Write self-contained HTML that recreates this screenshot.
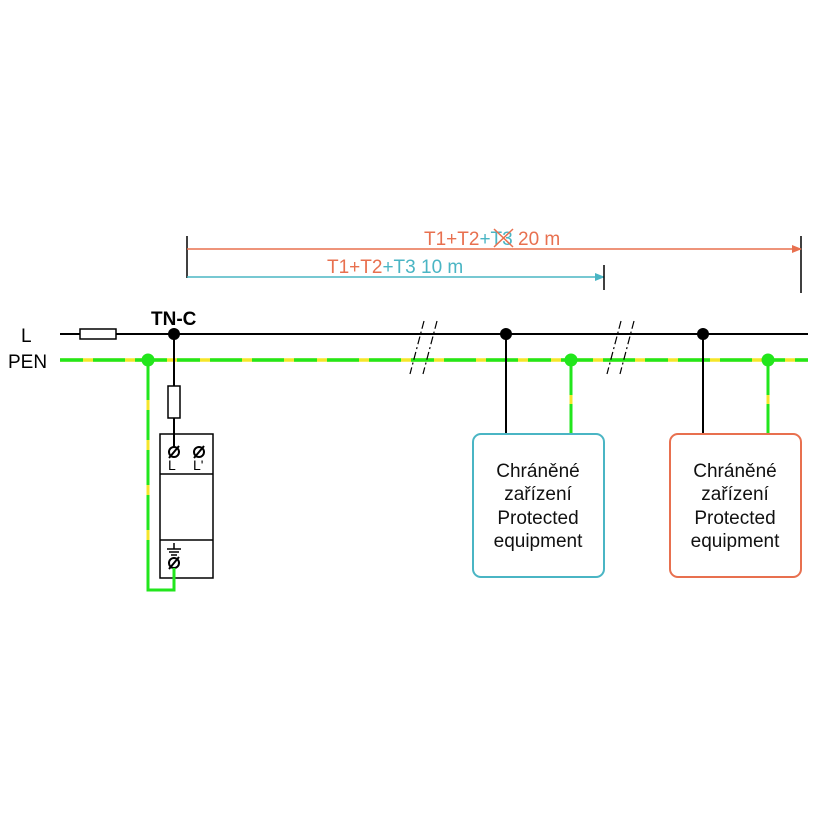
<!DOCTYPE html>
<html><head><meta charset="utf-8"><style>body{margin:0;background:#fff}svg{display:block}text{font-family:"Liberation Sans",sans-serif}</style></head><body>
<svg width="820" height="820" viewBox="0 0 820 820" xmlns="http://www.w3.org/2000/svg">
<defs>
<marker id="ao" markerWidth="10" markerHeight="10" refX="9" refY="5" orient="auto" markerUnits="userSpaceOnUse"><path d="M0,1 L10,5 L0,9z" fill="#e8704f"/></marker>
<marker id="at" markerWidth="10" markerHeight="10" refX="9" refY="5" orient="auto" markerUnits="userSpaceOnUse"><path d="M0,1 L10,5 L0,9z" fill="#4ab5c4"/></marker>
</defs>
<line x1="187" y1="236" x2="187" y2="278" stroke="#000" stroke-width="1.5"/>
<line x1="801" y1="236" x2="801" y2="293" stroke="#000" stroke-width="1.5"/>
<line x1="187" y1="249" x2="801" y2="249" stroke="#e8704f" stroke-width="1.5" marker-end="url(#ao)"/>
<line x1="187" y1="277" x2="604" y2="277" stroke="#4ab5c4" stroke-width="1.5" marker-end="url(#at)"/>
<line x1="604" y1="265" x2="604" y2="290" stroke="#000" stroke-width="1.5"/>
<text x="424" y="245" font-size="19" fill="#e8704f">T1+T2<tspan fill="#4ab5c4">+T3</tspan> 20 m</text>
<line x1="494" y1="229" x2="513" y2="247" stroke="#e8704f" stroke-width="1.5"/>
<line x1="494" y1="247" x2="513" y2="229" stroke="#e8704f" stroke-width="1.5"/>
<text x="327" y="273" font-size="19" fill="#e8704f">T1+T2<tspan fill="#4ab5c4">+T3 10 m</tspan></text>
<text x="21" y="342" font-size="19">L</text>
<text x="8" y="368" font-size="19">PEN</text>
<text x="151" y="325" font-size="19" font-weight="bold">TN-C</text>
<line x1="60" y1="334" x2="808" y2="334" stroke="#000" stroke-width="2"/>
<rect x="80" y="329" width="36" height="10" fill="#fff" stroke="#000" stroke-width="1.5"/>
<line x1="60" y1="360" x2="808" y2="360" stroke="#f5e62a" stroke-width="3.5"/>
<line x1="60" y1="360" x2="808" y2="360" stroke="#22e61c" stroke-width="3.5" stroke-dasharray="23 10 32 10 32 10" />
<g stroke="#000" stroke-width="1.2" stroke-dasharray="8 3 2 3">
<line x1="424" y1="321" x2="410" y2="374"/><line x1="437" y1="321" x2="423" y2="374"/>
<line x1="621" y1="321" x2="607" y2="374"/><line x1="634" y1="321" x2="620" y2="374"/>
</g>
<line x1="174" y1="334" x2="174" y2="452" stroke="#000" stroke-width="2"/>
<rect x="168" y="386" width="12" height="32" fill="#fff" stroke="#000" stroke-width="1.5"/>
<polyline points="148,360 148,590 174,590 174,563" fill="none" stroke="#22e61c" stroke-width="3"/>
<line x1="148" y1="400" x2="148" y2="410" stroke="#f5e62a" stroke-width="3"/>
<line x1="148" y1="440" x2="148" y2="450" stroke="#f5e62a" stroke-width="3"/>
<line x1="148" y1="485" x2="148" y2="495" stroke="#f5e62a" stroke-width="3"/>
<line x1="148" y1="530" x2="148" y2="540" stroke="#f5e62a" stroke-width="3"/>
<rect x="160" y="434" width="53" height="144" fill="none" stroke="#000" stroke-width="1.5"/>
<line x1="160" y1="474" x2="213" y2="474" stroke="#000" stroke-width="1.5"/>
<line x1="160" y1="540" x2="213" y2="540" stroke="#000" stroke-width="1.5"/>
<g stroke="#000" stroke-width="2" fill="#fff">
<circle cx="174" cy="452" r="5"/><line x1="169" y1="458" x2="179" y2="446"/>
<circle cx="199" cy="452" r="5"/><line x1="194" y1="458" x2="204" y2="446"/>
<circle cx="174" cy="563" r="5"/><line x1="169" y1="569" x2="179" y2="557"/>
<line x1="174" y1="543" x2="174" y2="549" stroke-width="1.5"/><line x1="167" y1="549" x2="181" y2="549" stroke-width="1.5"/><line x1="169" y1="552" x2="179" y2="552" stroke-width="1.5"/><line x1="171" y1="555" x2="177" y2="555" stroke-width="1.5"/>
</g>
<line x1="174" y1="568" x2="174" y2="590" stroke="#22e61c" stroke-width="3"/>
<text x="168" y="470" font-size="14">L</text><text x="193" y="470" font-size="14">L'</text>
<line x1="506" y1="334" x2="506" y2="434" stroke="#000" stroke-width="2"/>
<line x1="703" y1="334" x2="703" y2="434" stroke="#000" stroke-width="2"/>
<line x1="571" y1="360" x2="571" y2="434" stroke="#22e61c" stroke-width="3"/>
<line x1="571" y1="395" x2="571" y2="404" stroke="#f5e62a" stroke-width="3"/>
<line x1="768" y1="360" x2="768" y2="434" stroke="#22e61c" stroke-width="3"/>
<line x1="768" y1="395" x2="768" y2="404" stroke="#f5e62a" stroke-width="3"/>
<rect x="473" y="434" width="131" height="143" rx="8" fill="#fff" stroke="#4ab5c4" stroke-width="2"/>
<rect x="670" y="434" width="131" height="143" rx="8" fill="#fff" stroke="#e8704f" stroke-width="2"/>
<g font-size="19" text-anchor="middle" fill="#111">
<text x="538" y="477">Chráněné</text><text x="538" y="500">zařízení</text><text x="538" y="524">Protected</text><text x="538" y="547">equipment</text>
<text x="735" y="477">Chráněné</text><text x="735" y="500">zařízení</text><text x="735" y="524">Protected</text><text x="735" y="547">equipment</text>
</g>
<circle cx="174" cy="334" r="6" fill="#000"/>
<circle cx="506" cy="334" r="6" fill="#000"/>
<circle cx="703" cy="334" r="6" fill="#000"/>
<circle cx="148" cy="360" r="6.5" fill="#22e61c"/>
<circle cx="571" cy="360" r="6.5" fill="#22e61c"/>
<circle cx="768" cy="360" r="6.5" fill="#22e61c"/>
</svg>
</body></html>
